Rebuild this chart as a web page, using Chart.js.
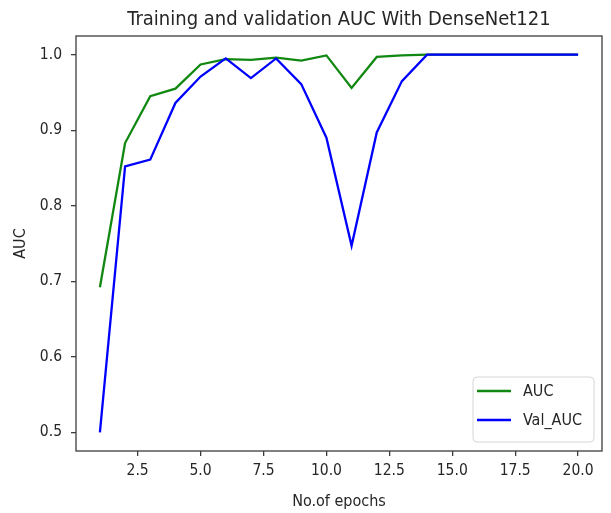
<!DOCTYPE html>
<html>
<head>
<meta charset="utf-8">
<script src="https://cdn.jsdelivr.net/npm/chart.js@4/dist/chart.umd.min.js"></script>
<style>
  html, body { margin: 0; padding: 0; background: #fff; }
  #wrap { width: 611px; height: 513px; }
</style>
</head>
<body>
<div id="wrap"><canvas id="chart" width="611" height="513"></canvas></div>
<script>
const epochs = [1, 2, 3, 4, 5, 6, 7, 8, 9, 10, 11, 12, 13, 14, 15, 16, 17, 18, 19, 20];
const auc = [0.692, 0.883, 0.945, 0.955, 0.987, 0.994, 0.993, 0.996, 0.992, 0.999,
             0.956, 0.997, 0.999, 1.0, 1.0, 1.0, 1.0, 1.0, 1.0, 1.0];
const valAuc = [0.500, 0.852, 0.861, 0.936, 0.971, 0.995, 0.969, 0.995, 0.961, 0.890,
                0.747, 0.897, 0.965, 1.0, 1.0, 1.0, 1.0, 1.0, 1.0, 1.0];
const xTicks = [2.5, 5.0, 7.5, 10.0, 12.5, 15.0, 17.5, 20.0];
const yTicks = [0.5, 0.6, 0.7, 0.8, 0.9, 1.0];

const FONT = "'DejaVu Sans Condensed', 'DejaVu Sans', sans-serif";
const TXT = "#262626";

// frame, title and legend drawn like matplotlib
const mplDecor = {
  id: "mplDecor",
  afterDraw(chart) {
    const ctx = chart.ctx;
    const a = chart.chartArea;
    ctx.save();
    ctx.strokeStyle = "#3c3c3c";
    ctx.lineWidth = 1.3;
    ctx.strokeRect(a.left, a.top, a.right - a.left, a.bottom - a.top);

    ctx.fillStyle = TXT;
    ctx.font = "20px " + FONT;
    ctx.textAlign = "center";
    ctx.textBaseline = "alphabetic";
    ctx.fillText("Training and validation AUC With DenseNet121", (a.left + a.right) / 2, 25);

    // legend box, lower right
    const bx = 473, by = 377, bw = 121, bh = 65;
    ctx.beginPath();
    ctx.roundRect(bx, by, bw, bh, 4);
    ctx.fillStyle = "rgba(255,255,255,0.8)";
    ctx.fill();
    ctx.strokeStyle = "#d6d6d6";
    ctx.lineWidth = 1;
    ctx.stroke();

    const items = chart.data.datasets;
    items.forEach(function (ds, i) {
      const y = 391 + i * 29;
      ctx.strokeStyle = ds.borderColor;
      ctx.lineWidth = 2.4;
      ctx.beginPath();
      ctx.moveTo(477, y);
      ctx.lineTo(511, y);
      ctx.stroke();
      ctx.fillStyle = TXT;
      ctx.font = "16px " + FONT;
      ctx.textAlign = "left";
      ctx.textBaseline = "middle";
      ctx.fillText(ds.label, 523, y + 1);
    });
    ctx.restore();
  }
};

const ctx = document.getElementById("chart").getContext("2d");
const myChart = new Chart(ctx, {
  type: "line",
  data: {
    datasets: [
      {
        label: "AUC",
        data: epochs.map(function (e, i) { return { x: e, y: auc[i] }; }),
        borderColor: "#118811",
        borderWidth: 2.3,
        pointRadius: 0,
        tension: 0,
        order: 1,
      },
      {
        label: "Val_AUC",
        data: epochs.map(function (e, i) { return { x: e, y: valAuc[i] }; }),
        borderColor: "#0000ff",
        borderWidth: 2.3,
        pointRadius: 0,
        tension: 0,
        order: 0,
      },
    ],
  },
  options: {
    responsive: false,
    animation: false,
    layout: { padding: { top: 36, right: 9, left: 0, bottom: 0 } },
    plugins: {
      legend: { display: false },
      title: { display: false },
      tooltip: { enabled: false },
    },
    scales: {
      x: {
        type: "linear",
        min: 0.05,
        max: 20.95,
        afterBuildTicks: function (scale) {
          scale.ticks = xTicks.map(function (v) { return { value: v }; });
        },
        afterFit: function (scale) { scale.height = 62; },
        grid: { drawOnChartArea: false, drawTicks: true, tickLength: 5, color: "#3c3c3c", lineWidth: 1.3 },
        border: { display: false },
        ticks: {
          autoSkip: false,
          maxRotation: 0,
          padding: 6,
          color: TXT,
          font: { family: FONT, size: 15.5 },
          callback: function (v) { return Number(v).toFixed(1); },
        },
        title: {
          display: true,
          text: "No.of epochs",
          color: TXT,
          font: { family: FONT, size: 16 },
          padding: { top: 0, bottom: 2 },
        },
      },
      y: {
        min: 0.4753,
        max: 1.0247,
        afterBuildTicks: function (scale) {
          scale.ticks = yTicks.map(function (v) { return { value: v }; });
        },
        afterFit: function (scale) { scale.width = 76; },
        grid: { drawOnChartArea: false, drawTicks: true, tickLength: 5, color: "#3c3c3c", lineWidth: 1.3 },
        border: { display: false },
        ticks: {
          padding: 9,
          color: TXT,
          font: { family: FONT, size: 15.5 },
          callback: function (v) { return Number(v).toFixed(1); },
        },
        title: {
          display: true,
          text: "AUC",
          color: TXT,
          font: { family: FONT, size: 16 },
          padding: { top: 11, bottom: 0 },
        },
      },
    },
  },
  plugins: [mplDecor],
});
</script>
</body>
</html>
